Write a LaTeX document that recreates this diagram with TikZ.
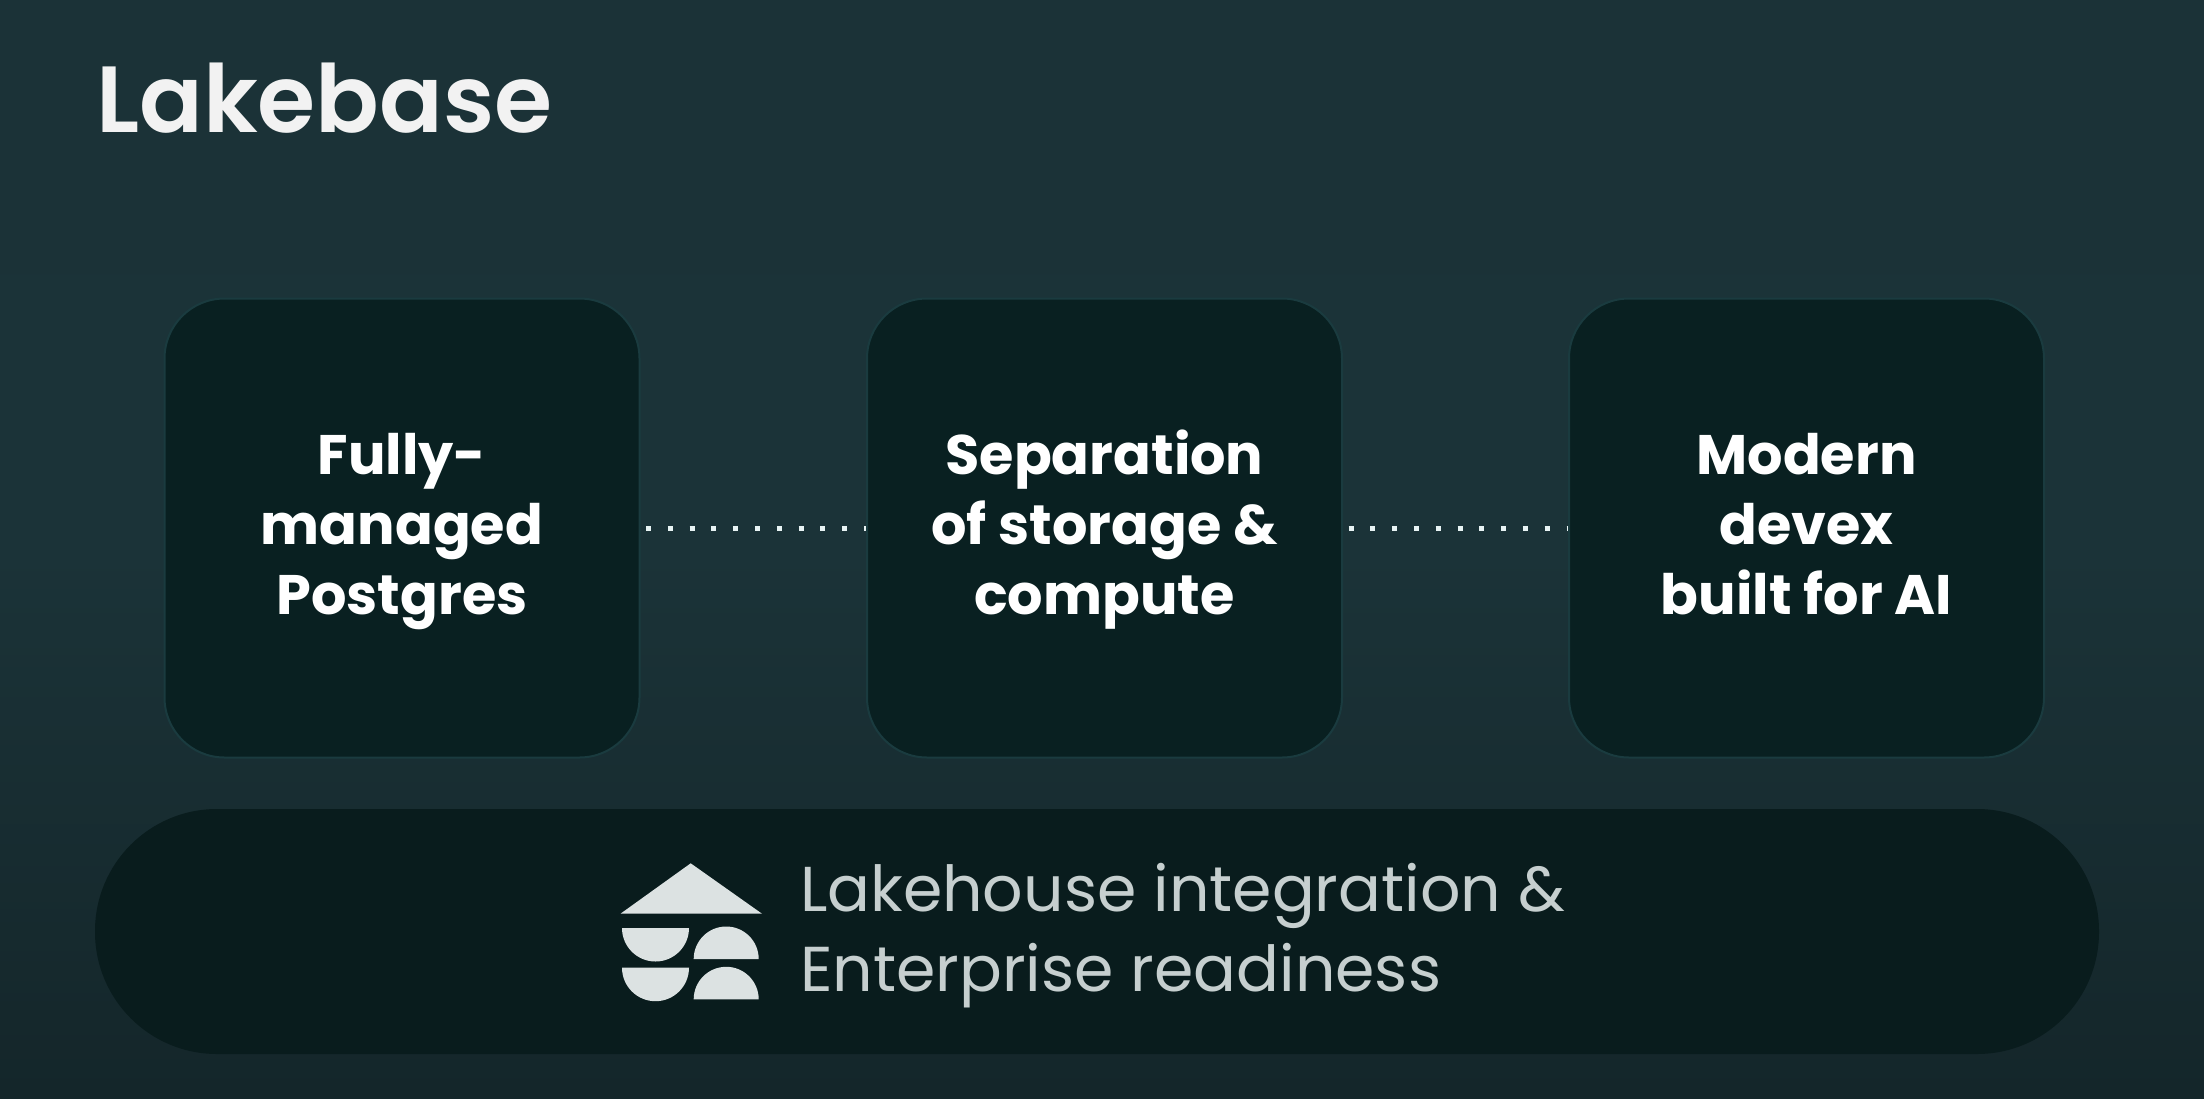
\documentclass[tikz,border=0pt]{standalone}
\usepackage{fontspec}
\setmainfont{Poppins}
\newfontfamily\semifont{Poppins SemiBold}
\newcommand{\cardtop}{\rule{0pt}{47.5pt}}
\definecolor{bgtop}{HTML}{1B3237}
\definecolor{bgmid}{HTML}{1B3338}
\definecolor{bgbot}{HTML}{14262A}
\definecolor{boxfill}{HTML}{092021}
\definecolor{boxline}{HTML}{1A3B3F}
\definecolor{pillfill}{HTML}{091C1D}
\definecolor{dotcol}{HTML}{E8F4F4}
\definecolor{greytext}{HTML}{C6CFCF}
\definecolor{iconcol}{HTML}{DCE2E2}
\begin{document}
\begin{tikzpicture}[x=1pt,y=-1pt,
  card/.style={draw=boxline,line width=2pt,fill=boxfill,rounded corners=60pt,minimum width=475pt,minimum height=459pt,inner sep=0pt,text=white,align=center,font=\fontsize{55.7}{70}\selectfont\bfseries},
  dots/.style={draw=dotcol,line width=5pt,dash pattern=on 5pt off 16.8pt,dash phase=16.3pt}]
  \shade[top color=bgtop,bottom color=bgbot,middle color=bgmid] (0,0) rectangle (2204,1098);
  \node[anchor=base west,text=white!95!black,inner sep=0pt,font=\fontsize{94}{94}\selectfont\semifont] (title) at (96,132) {Lakebase};
  \node[card] (managed) at (402,528) {\cardtop Fully-\\managed\\Postgres};
  \node[card] (separation) at (1104.5,528) {\cardtop Separation\\of storage \&\\compute};
  \node[card] (devex) at (1806.5,528) {\cardtop Modern\\devex\\built for AI\vphantom{g}};
  \draw[dots] (managed.east) -- (separation.west);
  \draw[dots] (separation.east) -- (devex.west);
  \node[fill=pillfill,rounded corners=122pt,minimum width=2004pt,minimum height=245pt,inner sep=0pt] (pill) at (1097,931.5) {};
  \node[anchor=west,text=greytext,align=left,inner sep=0pt,font=\fontsize{63.4}{80}\selectfont] (lakehouse) at (800,935.5) {Lakehouse integration \&\\Enterprise readiness};
  % icon
  \fill[iconcol] (690.7,863.3) -- (762,913.7) -- (620.5,913.7) -- cycle;
  \fill[iconcol] (622,928) arc[start angle=180,end angle=0,radius=33.5] -- cycle;
  \fill[iconcol] (622,967.7) arc[start angle=180,end angle=0,radius=33.5] -- cycle;
  \fill[iconcol] (693.7,959) arc[start angle=180,end angle=360,radius=32.5] -- cycle;
  \fill[iconcol] (693.7,999.3) arc[start angle=180,end angle=360,radius=32.5] -- cycle;
\end{tikzpicture}
\end{document}
